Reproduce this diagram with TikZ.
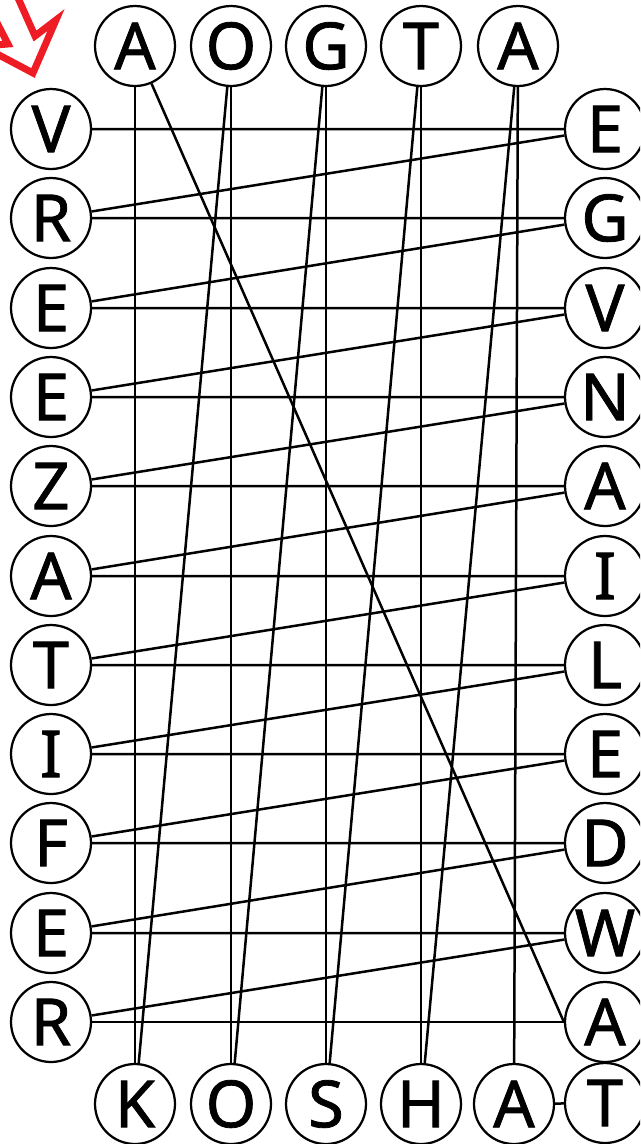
\documentclass[tikz,border=0pt]{standalone}
\usepackage{fontspec}
\setmainfont{Noto Sans}
\newfontfamily\letterfont{Noto Sans}[FakeBold=1.2]
\usepackage{tikz}
\usetikzlibrary{positioning}
\definecolor{mRed}{HTML}{EE1C25}

\begin{document}
\begin{tikzpicture}[x=0.02cm, y=-0.02cm,
    letter/.style={draw, circle, line width=0.045cm, minimum size=1.6cm, inner sep=0pt,
      font=\letterfont\fontsize{37}{37}\selectfont},
    link/.style={line width=0.05cm}]
  \useasboundingbox (0,0) rectangle (640,1144);
  \clip (0,0) rectangle (640,1144);

  % start arrow
  \draw[mRed, line width=0.14cm, line join=miter]
    (33,73) -- (56,20) -- (35,36) -- (10,-20) -- (-20,-10) -- (8,44) -- (-18,46) -- cycle;

  % top row
  \node[letter] (t1) at (135,46) {A};
  \node[letter] (t2) at (231,46) {O};
  \node[letter] (t3) at (326,46) {G};
  \node[letter] (t4) at (421,46) {T};
  \node[letter] (t5) at (518,46) {A};

  % left column
  \node[letter] (l0) at (51,129) {V};
  \node[letter] (l1) at (51,218) {R};
  \node[letter] (l2) at (51,308) {E};
  \node[letter] (l3) at (51,397) {E};
  \node[letter] (l4) at (51,486) {Z};
  \node[letter] (l5) at (51,576) {A};
  \node[letter] (l6) at (51,665) {T};
  \node[letter] (l7) at (51,754) {I};
  \node[letter] (l8) at (51,843) {F};
  \node[letter] (l9) at (51,933) {E};
  \node[letter] (l10) at (51,1022) {R};

  % right column
  \node[letter] (r0) at (605,129) {E};
  \node[letter] (r1) at (605,218) {G};
  \node[letter] (r2) at (605,308) {V};
  \node[letter] (r3) at (605,397) {N};
  \node[letter] (r4) at (605,486) {A};
  \node[letter] (r5) at (605,576) {I};
  \node[letter] (r6) at (605,665) {L};
  \node[letter] (r7) at (605,754) {E};
  \node[letter] (r8) at (605,843) {D};
  \node[letter] (r9) at (605,933) {W};
  \node[letter] (r10) at (605,1022) {A};

  % bottom row
  \node[letter] (b1) at (135,1104) {K};
  \node[letter] (b2) at (231,1104) {O};
  \node[letter] (b3) at (326,1104) {S};
  \node[letter] (b4) at (421,1104) {H};
  \node[letter] (b5) at (514,1104) {A};
  \node[letter] (bt) at (605,1103) {T};

  % zigzag through the columns
  \draw[link] (l0) -- (r0) -- (l1) -- (r1) -- (l2) -- (r2) -- (l3) -- (r3) -- (l4) -- (r4)
    -- (l5) -- (r5) -- (l6) -- (r6) -- (l7) -- (r7) -- (l8) -- (r8) -- (l9) -- (r9) -- (l10);
  \draw[link] (l10) -- (r10);
  \draw[link] (r10.west) -- (t1);
  % zigzag through the rows
  \draw[link] (t1) -- (b1);
  \draw[link] (b1) -- (t2);
  \draw[link] (t2) -- (b2);
  \draw[link] (b2) -- (t3);
  \draw[link] (t3) -- (b3);
  \draw[link] (b3) -- (t4);
  \draw[link] (t4) -- (b4);
  \draw[link] (b4) -- (t5);
  \draw[link] (t5) -- (b5);
  \draw[link] (b5) -- (bt);
\end{tikzpicture}
\end{document}
